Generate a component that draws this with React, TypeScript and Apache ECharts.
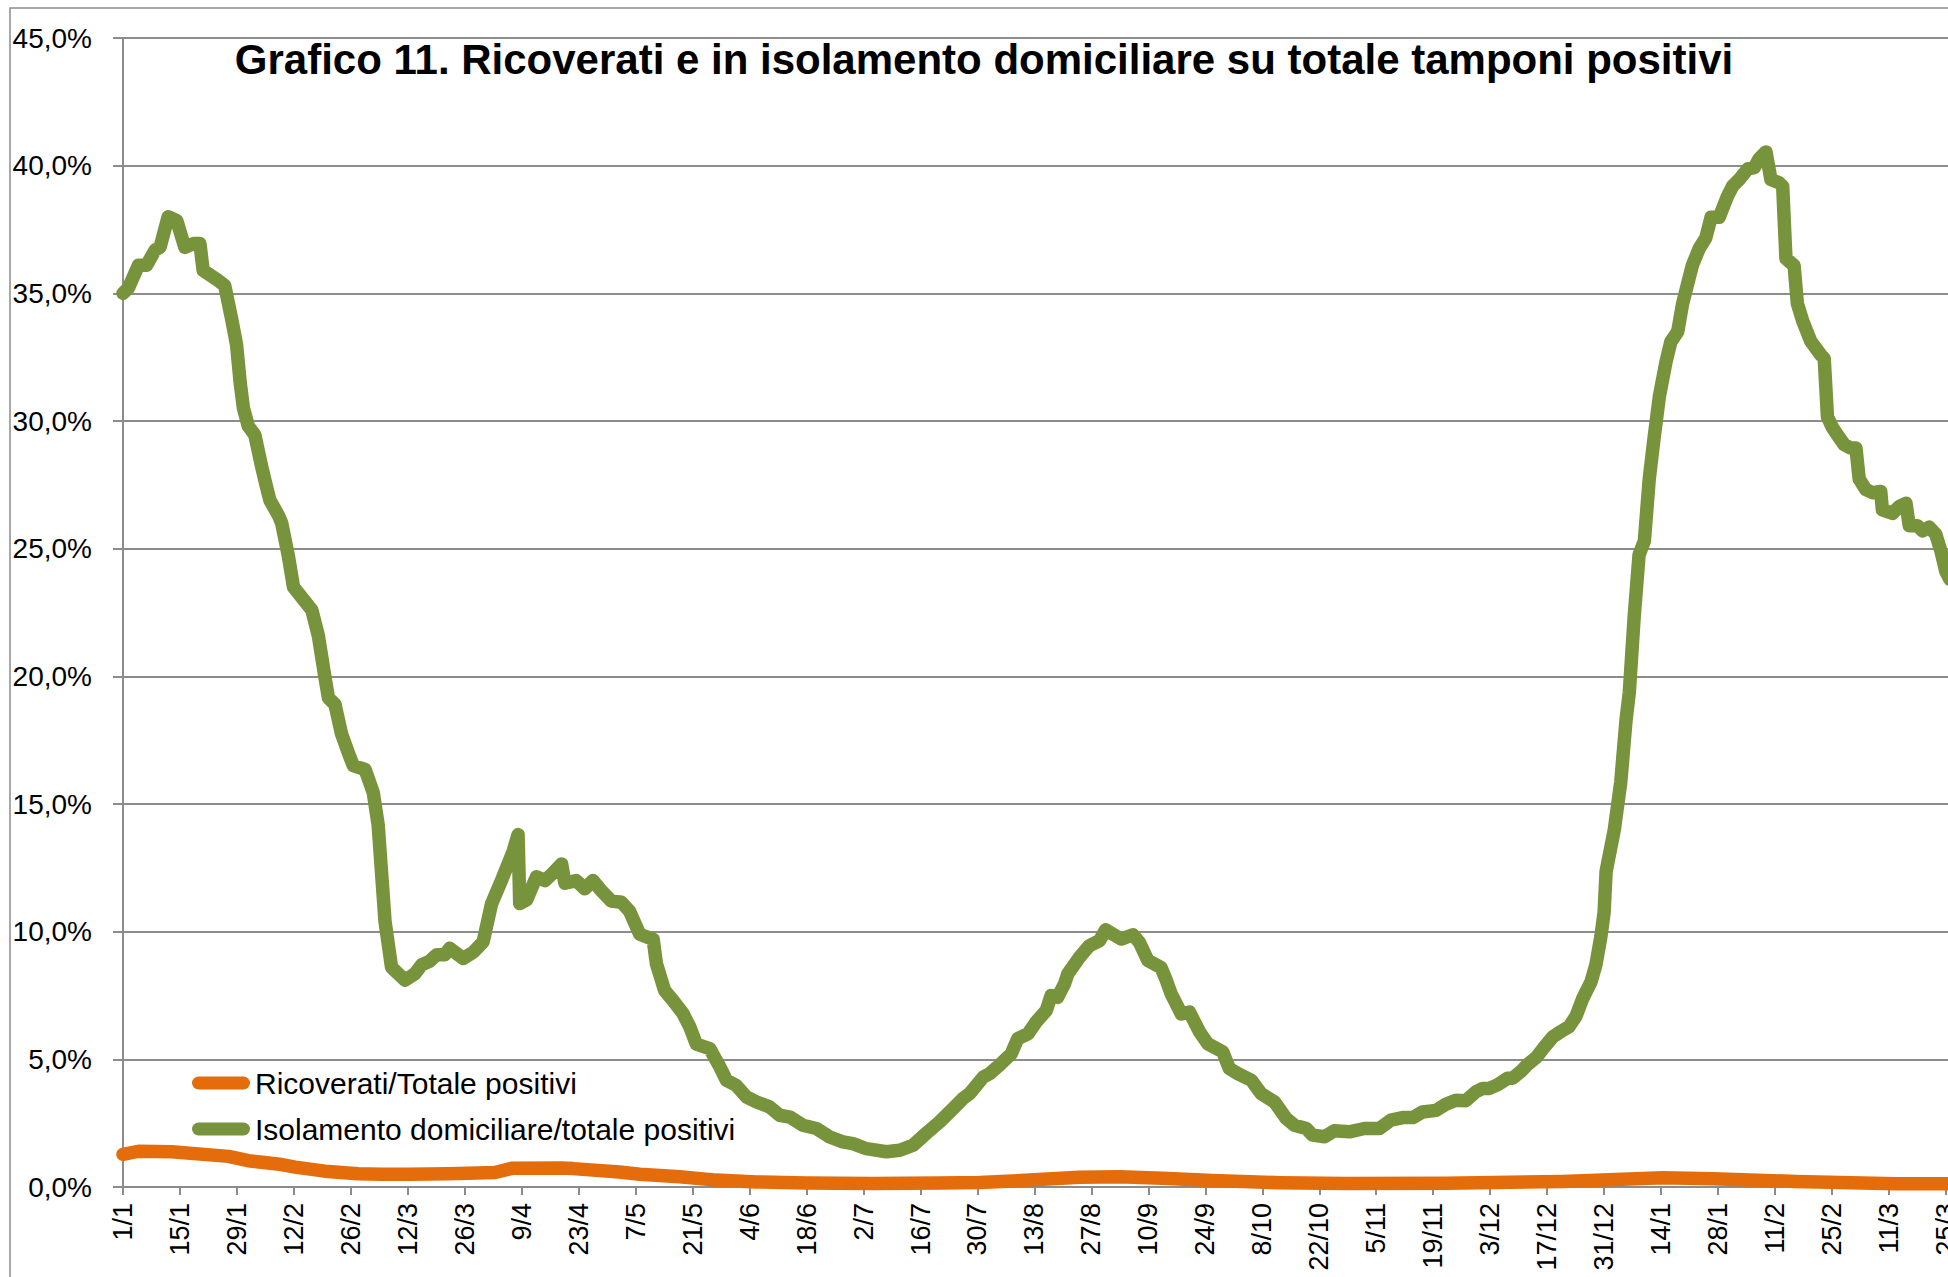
import React, { useEffect, useRef } from 'react';
import * as echarts from 'echarts';

const titleText = 'Grafico 11. Ricoverati e in isolamento domiciliare su totale tamponi positivi';
const seriesNames = ['Ricoverati/Totale positivi', 'Isolamento domiciliare/totale positivi'];
const seriesColors = ['#E46C0A', '#77933C'];

// x tick labels, one every 14 days starting 1/1
const tickLabels = ['1/1', '15/1', '29/1', '12/2', '26/2', '12/3', '26/3', '9/4', '23/4', '7/5', '21/5', '4/6', '18/6', '2/7', '16/7', '30/7', '13/8', '27/8', '10/9', '24/9', '8/10', '22/10', '5/11', '19/11', '3/12', '17/12', '31/12', '14/1', '28/1', '11/2', '25/2', '11/3', '25/3'];

// [day index from 1/1, percent]
const ricoverati: number[][] = [
  [0, 1.28], [3.8, 1.4], [12, 1.38], [25.9, 1.2], [30.8, 1.03], [39, 0.88], [42.3, 0.78], [49.6, 0.62],
  [57.8, 0.52], [63.6, 0.5], [70, 0.5], [80, 0.52], [91.4, 0.57], [95.5, 0.73], [107.8, 0.74], [110.6, 0.72],
  [122, 0.59], [127, 0.5], [136.8, 0.4], [145.8, 0.27], [155.7, 0.2], [168, 0.16], [184.3, 0.14], [200.7, 0.16],
  [210.5, 0.18], [222.8, 0.27], [235.1, 0.38], [244.9, 0.4], [255.5, 0.34], [267.8, 0.25], [284.2, 0.17],
  [300.6, 0.14], [325.2, 0.15], [353.8, 0.22], [378.4, 0.36], [390.7, 0.32], [411.1, 0.22], [435.7, 0.13], [449, 0.13],
];

const isolamento: number[][] = [
  [0, 35.0], [1.3, 35.2], [3.8, 36.1], [5.8, 36.1], [7.9, 36.7], [9.1, 36.8], [11.1, 38.0], [13.2, 37.85],
  [15.2, 36.8], [17.3, 36.95], [18.9, 36.95], [19.7, 35.9], [23, 35.55], [25, 35.3], [26.7, 34.0], [27.9, 33.0],
  [28.8, 31.5], [29.6, 30.5], [30.8, 29.8], [32.4, 29.45], [34.1, 28.2], [35.3, 27.4], [36.1, 26.9], [38.2, 26.3],
  [39, 26.0], [40.6, 24.75], [41.9, 23.5], [43.9, 23.1], [46.4, 22.6], [48, 21.6], [49.6, 20.0], [50.5, 19.15],
  [52.1, 18.9], [53.7, 17.75], [55.4, 17.0], [56.6, 16.5], [59.5, 16.35], [61.5, 15.45], [62.7, 14.2], [64.4, 10.4],
  [66, 8.6], [69.3, 8.1], [71.7, 8.35], [73.4, 8.7], [75.4, 8.85], [77.1, 9.1], [79.1, 9.1], [80.3, 9.35],
  [83.6, 8.95], [86.1, 9.2], [88.5, 9.6], [90.6, 11.1], [93, 12.0], [95.9, 13.15], [97.1, 13.8], [97.5, 11.1],
  [99.2, 11.25], [101.6, 12.15], [103.7, 12.0], [105.7, 12.3], [107.8, 12.65], [108.6, 11.9], [111.4, 12.0],
  [113.5, 11.68], [115.5, 12.0], [117.6, 11.6], [120, 11.2], [122.5, 11.15], [124.5, 10.8], [127, 9.9],
  [130.3, 9.7], [131.1, 8.74], [133.1, 7.7], [135.2, 7.3], [137.6, 6.8], [139.3, 6.27], [140.9, 5.6], [144.2, 5.42],
  [146.7, 4.7], [148.3, 4.18], [150.7, 3.98], [153.2, 3.53], [155.7, 3.33], [158.9, 3.14], [161.4, 2.81],
  [163.9, 2.74], [167.1, 2.42], [170.4, 2.29], [173.7, 1.96], [176.9, 1.77], [179.4, 1.7], [182.7, 1.5],
  [187.6, 1.38], [190.9, 1.44], [194.2, 1.64], [197.4, 2.1], [200.7, 2.55], [204, 3.07], [206.4, 3.46],
  [208.1, 3.66], [211.4, 4.3], [213, 4.44], [215.4, 4.77], [218.3, 5.22], [219.9, 5.81], [222.4, 6.0],
  [224.4, 6.46], [226.9, 6.91], [228.1, 7.5], [229.7, 7.43], [231.4, 7.96], [232.2, 8.35], [235.1, 9.0],
  [237.5, 9.45], [240, 9.65], [241.5, 10.07], [243.3, 9.9], [245.3, 9.71], [248.2, 9.88], [249.8, 9.58],
  [251.9, 8.87], [255.1, 8.6], [256.4, 8.1], [257.6, 7.57], [260.1, 6.78], [262.1, 6.85], [264.6, 6.07],
  [266.6, 5.61], [270.3, 5.29], [271.9, 4.64], [274, 4.44], [277.3, 4.18], [279.7, 3.66], [283, 3.33],
  [285.9, 2.68], [287.9, 2.42], [290.8, 2.29], [292.4, 2.03], [295.3, 1.97], [297.7, 2.2], [301.4, 2.16],
  [305.1, 2.29], [308.8, 2.29], [311.6, 2.62], [314.5, 2.72], [317, 2.72], [319.4, 2.94], [322.7, 3.0],
  [325.1, 3.24], [327.6, 3.4], [330, 3.38], [332.5, 3.73], [334.2, 3.86], [335.8, 3.86], [337.8, 4.0],
  [340.3, 4.26], [341.5, 4.26], [343.6, 4.53], [345.2, 4.8], [347.3, 5.07], [349.3, 5.48], [351.4, 5.88],
  [353.4, 6.09], [355.4, 6.28], [357.1, 6.69], [358.7, 7.36], [360.8, 8.04], [362, 8.71], [363.2, 9.79],
  [364, 10.74], [364.5, 12.36], [366.5, 13.98], [368.1, 15.86], [369.4, 18.29], [370.2, 19.37], [371.4, 22.34],
  [372.6, 24.76], [373.9, 25.3], [375.1, 27.73], [376.3, 29.35], [377.6, 30.97], [379.2, 32.3], [380.4, 33.1],
  [382.1, 33.5], [383.3, 34.6], [385.7, 36.1], [387.4, 36.76], [389, 37.17], [390.3, 37.98], [392.3, 37.98],
  [394.3, 38.79], [395.6, 39.2], [397.2, 39.46], [399.3, 39.87], [400.9, 39.92], [402.1, 40.27], [403.8, 40.54],
  [405, 39.46], [407, 39.33], [407.9, 39.19], [408.7, 36.36], [410.7, 36.09], [411.5, 34.6], [412.8, 33.93],
  [414.8, 33.12], [417.3, 32.58], [418.1, 32.45], [418.9, 30.16], [420.1, 29.75], [421.8, 29.35], [423, 29.08],
  [424.6, 28.94], [425.9, 28.94], [426.7, 27.73], [428.3, 27.32], [430, 27.19], [432, 27.24], [432.4, 26.52],
  [434.9, 26.38], [436.5, 26.65], [438.2, 26.78], [439, 25.9], [441, 25.9], [442.3, 25.7], [443.9, 25.84],
  [445.5, 25.57], [446.8, 24.9], [448, 24.1], [449, 23.8],
];

const FONT = 'Liberation Sans';
const GRAY = '#8c8c8c';

export default function App() {
  const ref = useRef<HTMLDivElement>(null);
  useEffect(() => {
    const chart = echarts.init(ref.current!, null, { renderer: 'svg' });
    chart.setOption({
      animation: false,
      backgroundColor: '#ffffff',
      title: {
        text: titleText,
        left: 984,
        top: 59.5,
        padding: 0,
        textAlign: 'center',
        textVerticalAlign: 'middle',
        textStyle: { fontFamily: FONT, fontSize: 42, fontWeight: 'bold', color: '#000' },
      },
      graphic: [
        {
          type: 'rect',
          silent: true,
          shape: { x: 10, y: 8, width: 3000, height: 3000 },
          style: { fill: 'none', stroke: GRAY, lineWidth: 1.5 },
          z: -10,
        },
      ],
      legend: {
        orient: 'vertical',
        left: 192,
        top: 1065,
        padding: 0,
        itemGap: 10,
        itemWidth: 58,
        itemHeight: 13,
        icon: 'path://M6.5,0 L51.5,0 A6.5,6.5 0 0 1 51.5,13 L6.5,13 A6.5,6.5 0 0 1 6.5,0 Z',
        itemStyle: { borderWidth: 0 },
        textStyle: { fontFamily: FONT, fontSize: 30, color: '#000', lineHeight: 36 },
        data: seriesNames,
      },
      grid: { left: 123, top: 38, bottom: 90, right: -6, containLabel: false, outerBoundsMode: 'none' },
      xAxis: {
        type: 'value',
        min: 0,
        max: 450,
        interval: 14,
        axisLine: { show: true, lineStyle: { color: GRAY, width: 2 } },
        axisTick: { show: true, length: 8, lineStyle: { color: GRAY, width: 2 } },
        splitLine: { show: false },
        axisLabel: {
          rotate: 90,
          margin: 16,
          fontFamily: FONT,
          fontSize: 27,
          color: '#000',
          formatter: (v: number) => (v % 14 === 0 && tickLabels[v / 14] !== undefined ? tickLabels[v / 14] : ''),
        },
      },
      yAxis: {
        type: 'value',
        min: 0,
        max: 45,
        interval: 5,
        axisLine: { show: true, lineStyle: { color: GRAY, width: 2 } },
        axisTick: { show: true, length: 10, lineStyle: { color: GRAY, width: 2 } },
        splitLine: { show: true, lineStyle: { color: GRAY, width: 2 } },
        axisLabel: {
          margin: 31,
          fontFamily: FONT,
          fontSize: 28,
          color: '#000',
          formatter: (v: number) => v.toFixed(1).replace('.', ',') + '%',
        },
      },
      series: [
        {
          name: seriesNames[0],
          type: 'line',
          data: ricoverati,
          showSymbol: false,
          smooth: false,
          color: seriesColors[0],
          itemStyle: { color: seriesColors[0] },
          lineStyle: { color: seriesColors[0], width: 13.5, cap: 'round', join: 'round' },
          z: 3,
        },
        {
          name: seriesNames[1],
          type: 'line',
          data: isolamento,
          showSymbol: false,
          smooth: false,
          color: seriesColors[1],
          itemStyle: { color: seriesColors[1] },
          lineStyle: { color: seriesColors[1], width: 13.5, cap: 'round', join: 'round' },
          z: 4,
        },
      ],
    });
    return () => chart.dispose();
  }, []);
  return (
    <div
      ref={ref}
      style={{ position: 'absolute', left: 0, top: 0, width: 1948, height: 1277, background: '#fff' }}
    />
  );
}
